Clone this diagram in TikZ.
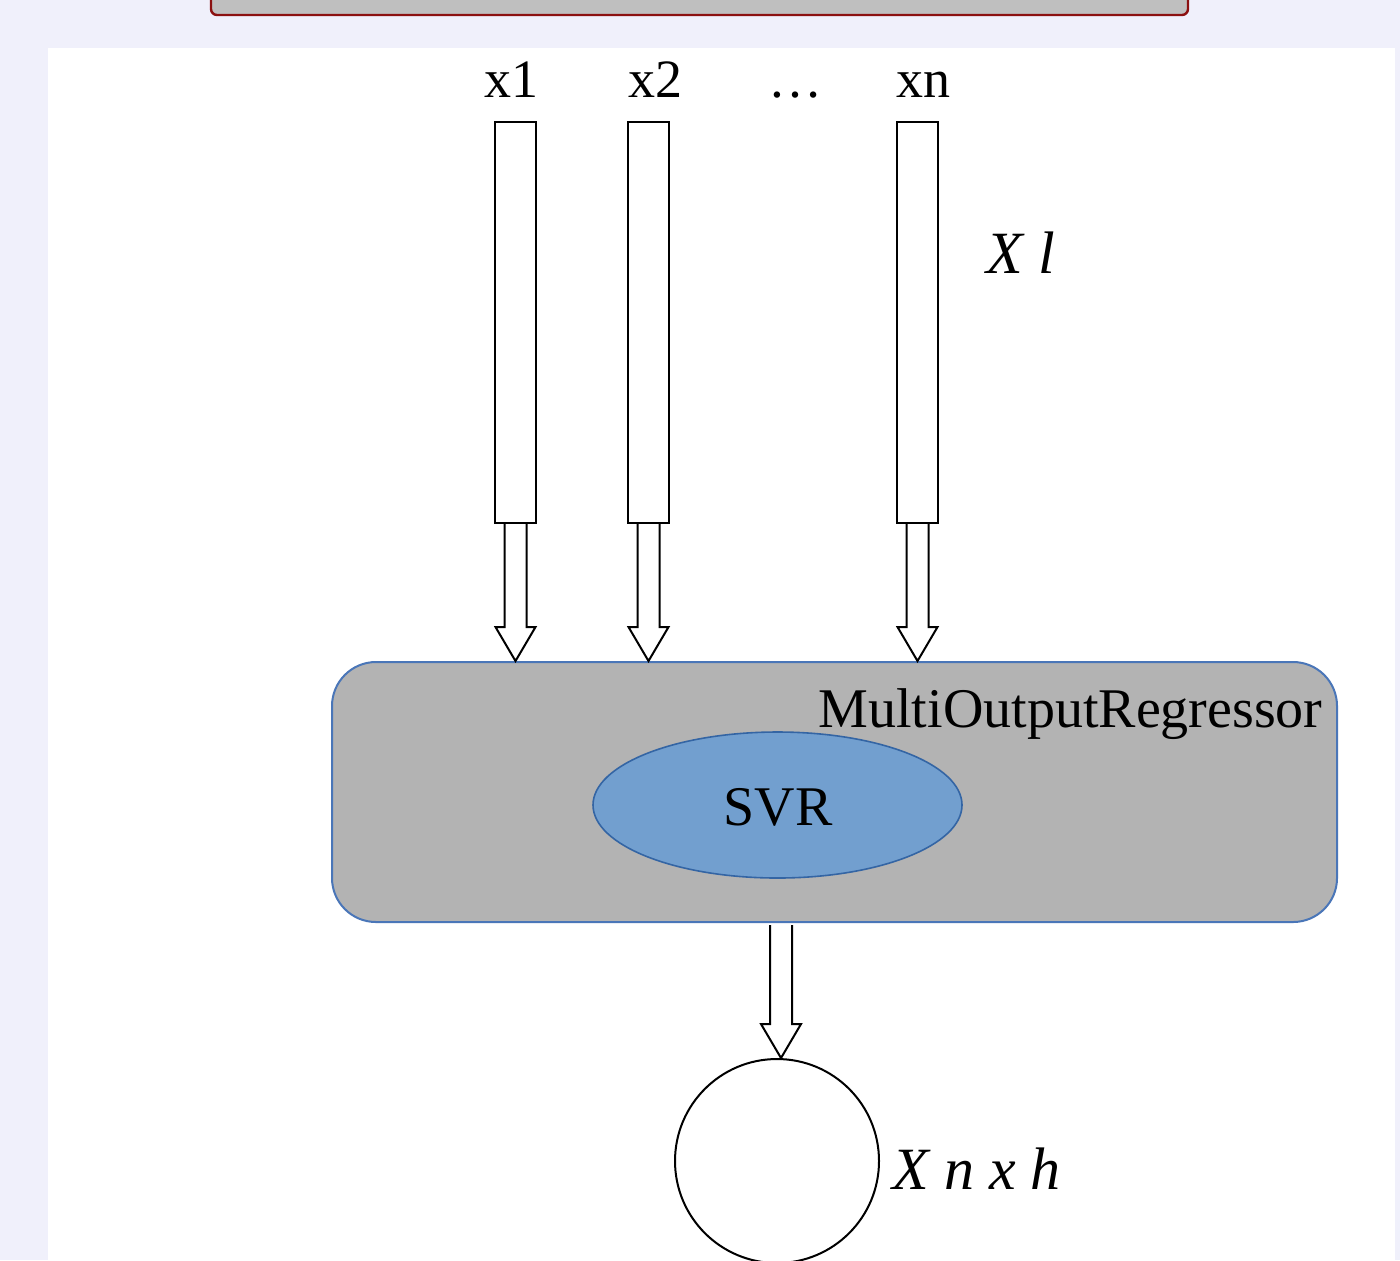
\documentclass[tikz,border=0pt]{standalone}
\usepackage{fontspec}
\setmainfont{Liberation Serif}
\usetikzlibrary{shapes.geometric,calc}
\definecolor{pagebg}{HTML}{F0F0FB}
\definecolor{bannerfill}{HTML}{BFBFBF}
\definecolor{bannerline}{HTML}{8B1010}
\definecolor{boxfill}{HTML}{B3B3B3}
\definecolor{boxline}{HTML}{4A76B8}
\definecolor{svrfill}{HTML}{729FCF}
\definecolor{svrline}{HTML}{3465A4}
\tikzset{
  inbar/.style={draw=black, fill=white, line width=1pt, minimum width=20.5pt,
                minimum height=200.5pt, inner sep=0pt},
  lbl/.style={inner sep=0pt, font=\fontsize{27}{30}\selectfont},
  ilbl/.style={inner sep=0pt, font=\fontsize{30}{32}\selectfont\itshape},
  hollow/.style={draw=black, fill=white, line width=1pt, line join=miter},
}
% hollow block arrow pointing down from #1 to the tip #2
\newcommand{\blockdown}[2]{%
  \draw[hollow] ($(#1)+(-11,0)$) -- ($(#2)+(-11,-34)$) -- ($(#2)+(-20,-34)$)
    -- (#2) -- ($(#2)+(20,-34)$) -- ($(#2)+(11,-34)$) -- ($(#1)+(11,0)$);}
\begin{document}
\begin{tikzpicture}[x=0.5pt, y=-0.5pt]
  \useasboundingbox (0,0) rectangle (1400,1260);
  \fill[pagebg] (0,0) rectangle (1400,1260);
  \fill[white] (48,48) rectangle (1395,1260);

  % title banner, cut by the top edge
  \begin{scope}
    \clip (0,0) rectangle (1400,1260);
    \draw[fill=bannerfill, draw=bannerline, line width=1.2pt, rounded corners=3pt]
      (211,-40) rectangle (1188,15);
  \end{scope}

  % input columns
  \node[inbar] (b1) at (515.5,322.5) {};
  \node[inbar] (b2) at (648.5,322.5) {};
  \node[inbar] (b3) at (917.5,322.5) {};
  \node[lbl, anchor=base] (l1) at (511,97) {x1};
  \node[lbl, anchor=base] (l2) at (655,97) {x2};
  \node[lbl, anchor=base] (l3) at (795,97) {…};
  \node[lbl, anchor=base] (l4) at (923,97) {xn};
  \node[ilbl, anchor=base west] (xl) at (986,273) {X l};

  % regressor block
  \node[draw=boxline, fill=boxfill, line width=1pt, rounded corners=22pt,
        minimum width=502.5pt, minimum height=130pt, inner sep=0pt]
        (mor) at (834.5,792) {};
  \node[lbl, anchor=base east, font=\fontsize{28}{30}\selectfont] (morlbl)
        at (1323,727) {MultiOutputRegressor};
  \node[ellipse, draw=svrline, fill=svrfill, line width=0.8pt,
        minimum width=184.5pt, minimum height=73pt, inner sep=0pt]
        (svr) at (777.5,805) {};
  \node[lbl, font=\fontsize{28}{30}\selectfont] (svrlbl) at (778,807) {SVR};

  % output node
  \node[circle, draw=black, fill=white, line width=1pt, minimum size=102pt,
        inner sep=0pt] (out) at (777,1161) {};
  \node[ilbl, anchor=base west] (xnh) at (892,1189) {X n x h};

  % connectors
  \coordinate (t1) at (b1.south |- mor.north);
  \coordinate (t2) at (b2.south |- mor.north);
  \coordinate (t3) at (b3.south |- mor.north);
  \blockdown{b1.south}{t1}
  \blockdown{b2.south}{t2}
  \blockdown{b3.south}{t3}
  \coordinate (s4) at ($(out.north |- mor.south)+(4,2)$);
  \coordinate (t4) at ($(out.north)+(4,0)$);
  \blockdown{s4}{t4}
\end{tikzpicture}
\end{document}
